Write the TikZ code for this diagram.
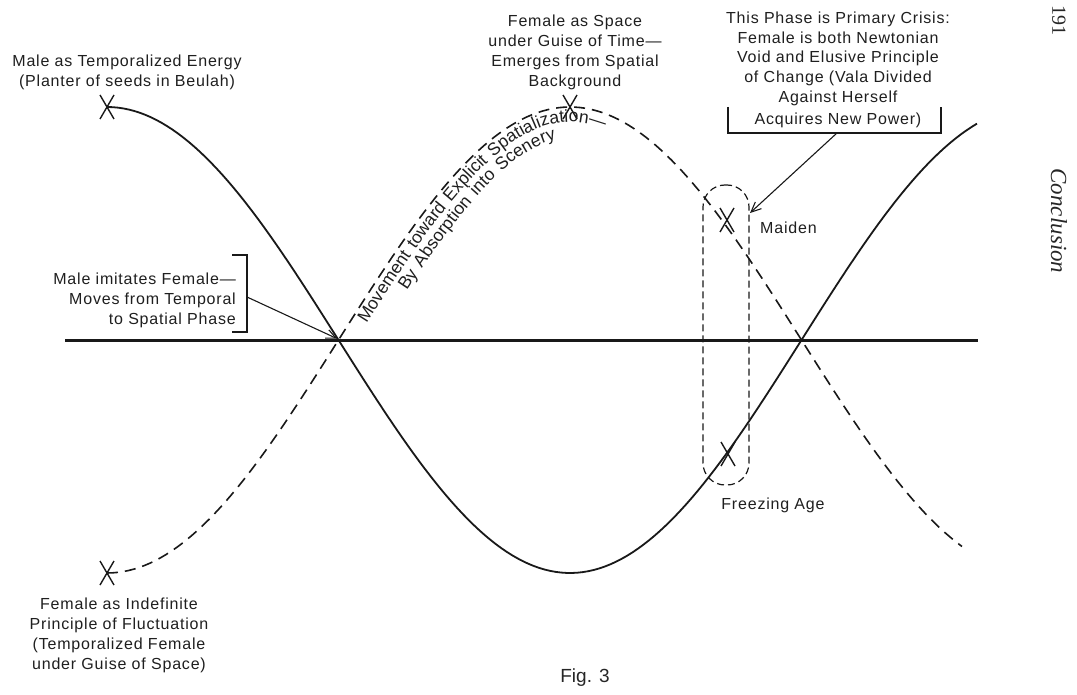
\documentclass[tikz,border=0pt]{standalone}
\usepackage{fontspec}
\setmainfont{Liberation Sans}
\newfontfamily\lblfam[LetterSpace=5]{Liberation Sans}
\newfontfamily\curvefam[LetterSpace=11]{Liberation Sans}
\newfontfamily\serifx{Liberation Serif}
\usetikzlibrary{decorations.text,arrows.meta}
\tikzset{
  ink/.style={draw=black!90},
  lbl/.style={font=\lblfam\fontsize{16}{20}\selectfont, text=black!88, inner sep=0pt, align=center},
  axisline/.style={ink, line width=3pt},
  malec/.style={ink, line width=1.8pt},
  femc/.style={ink, line width=1.6pt, dash pattern=on 11pt off 7pt},
  brk/.style={ink, line width=1.1pt},
  arr/.style={ink, line width=1.1pt, -{Straight Barb[length=10pt,width=9pt]}},
  ovalbox/.style={ink, line width=1.2pt, dash pattern=on 7pt off 4pt, rounded corners=22pt,
    minimum width=46pt, minimum height=300pt, inner sep=0pt},
  xmark/.pic={\draw[ink, line width=1.4pt] (-7,-12)--(7,12) (7,-12)--(-7,12);},
  curvetext/.style={font=\curvefam\fontsize{17.5}{20}\selectfont, decorate}
}
\begin{document}
\begin{tikzpicture}[x=1pt,y=-1pt]
\useasboundingbox[fill=white] (0,0) rectangle (1077,695);

% axis
\coordinate (axL) at (65,340);
\coordinate (axR) at (978,340);
\draw[axisline] (axL) -- (axR);

% curves
\draw[malec] plot[domain=107:977, samples=160] (\x, {340-233*cos((\x-107)/463*180)});
\draw[femc] plot[domain=107:962, samples=160] (\x, {340+233*cos((\x-107)/463*180)});

% key points
\coordinate (mStart) at (107,107);
\coordinate (fStart) at (107,573);
\coordinate (fPeak) at (570,107);
\coordinate (cross1) at (340,340);
\coordinate (maidenX) at (727,220);
\coordinate (freezeX) at (728,454);
\pic at (mStart) {xmark};
\pic at (fStart) {xmark};
\pic at (fPeak) {xmark};
\pic at (maidenX) {xmark};
\pic at (freezeX) {xmark};

% curved text
\path[curvetext, decoration={text along path, text color=black!88, text align=left,
  text={|\curvefam\fontsize{17.5}{20}\selectfont|Movement toward Explicit Spatialization—}}]
  plot[domain=96:260, samples=110, variable=\t]
  ({107+\t/180*463 + 15*1.581*sin(\t)/sqrt(1+2.5*sin(\t)*sin(\t))},
   {340+233*cos(\t) + 15/sqrt(1+2.5*sin(\t)*sin(\t))});
\path[curvetext, decoration={text along path, text color=black!88, text align=left,
  text={|\curvefam\fontsize{17.5}{20}\selectfont|By Absorption into Scenery}}]
  plot[domain=106.5:260, samples=110, variable=\t]
  ({107+\t/180*463 + 31*1.581*sin(\t)/sqrt(1+2.5*sin(\t)*sin(\t))},
   {340+233*cos(\t) + 31/sqrt(1+2.5*sin(\t)*sin(\t))});

% labels
\node[lbl, anchor=north] (mte) at (127,55) {Male as Temporalized Energy\\(Planter of seeds in Beulah)};
\node[lbl, anchor=north] (fas) at (575,15) {Female as Space\\under Guise of Time—\\Emerges from Spatial\\Background};
\node[lbl, anchor=north, font=\lblfam\fontsize{16}{19.6}\selectfont] (crisis) at (838,12)
  {This Phase is Primary Crisis:\\Female is both Newtonian\\Void and Elusive Principle\\of Change (Vala Divided\\Against Herself\\[3pt]Acquires New Power)};
\node[lbl, anchor=north east, align=right] (mif) at (236,273) {Male imitates Female—\\Moves from Temporal\\to Spatial Phase};
\node[lbl, anchor=north west] (maiden) at (760,222) {Maiden};
\node[lbl, anchor=north] (freezing) at (773,498) {Freezing Age};
\node[lbl, anchor=north] (fif) at (119,598) {Female as Indefinite\\Principle of Fluctuation\\(Temporalized Female\\under Guise of Space)};
\node[font=\fontsize{19}{22}\selectfont, text=black!85, inner sep=0pt] (fig) at (585,678) {Fig. 3};
\node[font=\serifx\fontsize{20}{22}\selectfont, text=black!85, rotate=-90, inner sep=0pt] (pg) at (1059,21) {191};
\node[font=\serifx\itshape\fontsize{23}{25}\selectfont, text=black!85, rotate=-90, inner sep=0pt] (concl) at (1059,221) {Conclusion};

% oval
\node[ovalbox, draw] (oval) at (726,335) {};

% brackets and arrows
\coordinate (b1t) at (232,255);
\coordinate (b1b) at (232,332);
\coordinate (b1m) at (247,297);
\draw[brk] (b1t) -- (247,255) -- (247,332) -- (b1b);
\draw[arr, shorten >=3pt] (b1m) -- (cross1);

\coordinate (b2l) at (728,107);
\coordinate (b2r) at (941,107);
\coordinate (b2m) at (837,133);
\coordinate (ovTip) at (750,213);
\draw[brk] (b2l) -- (728,133) -- (941,133) -- (b2r);
\draw[arr] (b2m) -- (ovTip);
\end{tikzpicture}
\end{document}
